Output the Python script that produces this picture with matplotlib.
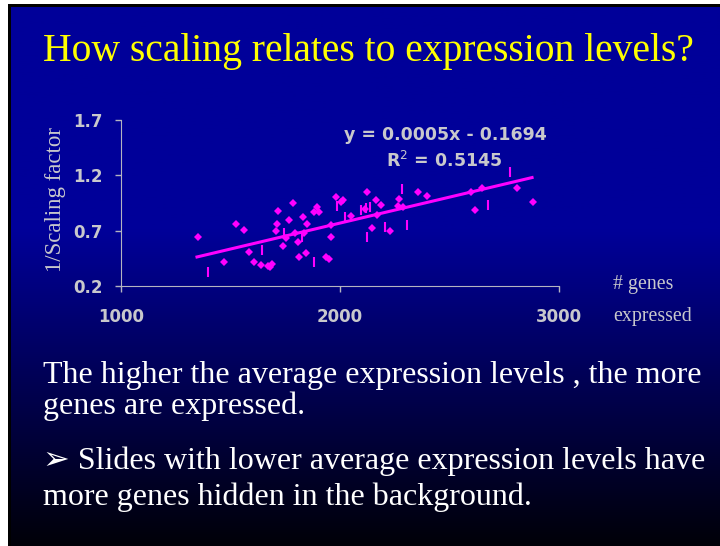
import matplotlib
matplotlib.use("Agg")
import matplotlib.pyplot as plt
import numpy as np

W, H = 720, 546

# points drawn as diamonds
genes_diamond = [1351, 1471, 1524, 1560, 1586, 1606, 1638, 1670, 1679, 1689,
                 1716, 1713, 1707, 1738, 1754, 1769, 1786, 1795, 1806, 1811,
                 1833, 1834, 1845, 1848, 1879, 1896, 1906, 1937, 1952, 1957,
                 1960, 1983, 2005, 2013, 2048, 2124, 2166, 2185, 2113, 2168,
                 2146, 2229, 2270, 2265, 2288, 2356, 2397, 2600, 2649, 2616,
                 2810, 2879]
scale_diamond = [0.645, 0.417, 0.760, 0.706, 0.507, 0.417, 0.390, 0.381, 0.374, 0.399,
                 0.875, 0.760, 0.700, 0.564, 0.638, 0.796, 0.950, 0.676, 0.600, 0.465,
                 0.821, 0.676, 0.501, 0.760, 0.869, 0.911, 0.871, 0.465, 0.441, 0.645,
                 0.748, 1.001, 0.959, 0.973, 0.833, 1.047, 0.977, 0.932, 0.893, 0.842,
                 0.724, 0.697, 0.983, 0.923, 0.911, 1.048, 1.013, 1.047, 1.084, 0.887,
                 1.083, 0.957]

# points drawn as short vertical dashes
genes_dash = [1398, 1644, 1746, 1827, 1879, 1986, 2025, 2097, 2117, 2135,
              2123, 2204, 2285, 2304, 2676, 2776]
scale_dash = [0.329, 0.525, 0.679, 0.645, 0.420, 0.927, 0.826, 0.887, 0.902, 0.914,
              0.645, 0.736, 1.074, 0.751, 0.932, 1.227]

# trend line
fit_slope = 0.000469
fit_intercept = -0.1694
fit_x = [1347, 2877]

x_ticks = [1000, 2000, 3000]
y_ticks = [0.2, 0.7, 1.2, 1.7]

serif = "Liberation Serif"
bold_sans = "DejaVu Sans"
grey = "#c8c8cc"
magenta = "#ff00ff"


def fx(px):
    return px / W


def fy(py):
    return 1 - py / H


fig = plt.figure(figsize=(7.2, 5.46), dpi=100)
fig.patch.set_facecolor("white")

# slide background: black frame and blue -> black gradient
frame = fig.add_axes([fx(8), 0, 1 - fx(8), fy(4)])
frame.set_facecolor("black")
frame.set_xticks([])
frame.set_yticks([])
for s in frame.spines.values():
    s.set_visible(False)

bg = fig.add_axes([fx(11), 0, 1 - fx(11), fy(7)])
rows = np.linspace(7, H, 300)
top = np.array([0, 0, 153]) / 255
bottom = np.array([0, 0, 8]) / 255
t = np.clip((rows - 230) / (H - 230), 0, 1)[:, None]
grad = top * (1 - t) + bottom * t
bg.imshow(grad[:, None, :], aspect="auto", extent=[0, 1, 0, 1])
bg.set_axis_off()

# title and body text
fig.text(fx(43), fy(51), "How scaling relates to expression levels?",
         color="yellow", family=serif, fontsize=28.5, ha="left", va="center")
body = 23
fig.text(fx(43), fy(376), "The higher the average expression levels , the more",
         color="white", family=serif, fontsize=body, ha="left", va="center")
fig.text(fx(43), fy(406), "genes are expressed.",
         color="white", family=serif, fontsize=body, ha="left", va="center")
fig.text(fx(43), fy(461), "\u27a2 Slides with lower average expression levels have",
         color="white", family=[serif, "DejaVu Sans"], fontsize=body, ha="left", va="center")
fig.text(fx(43), fy(497), "more genes hidden in the background.",
         color="white", family=serif, fontsize=body, ha="left", va="center")

# scatter chart
ax = fig.add_axes([fx(121), fy(286), fx(559) - fx(121), fy(120) - fy(286)])
ax.patch.set_alpha(0)
ax.plot(genes_diamond, scale_diamond, "D", color=magenta, markersize=4.5, mew=0)
ax.plot(genes_dash, scale_dash, "|", color=magenta, markersize=6.5, mew=1.5)
fx_arr = np.array(fit_x)
ax.plot(fx_arr, fit_slope * fx_arr + fit_intercept, color=magenta, lw=2.2)

ax.set_xlim(1000, 3000)
ax.set_ylim(0.2, 1.7)
ax.set_xticks(x_ticks)
ax.set_yticks(y_ticks)
ax.set_xticklabels([str(v) for v in x_ticks])
ax.set_yticklabels(["%.1f" % v for v in y_ticks])
for s in ["top", "right"]:
    ax.spines[s].set_visible(False)
for s in ["left", "bottom"]:
    ax.spines[s].set_color("#b4b4c0")
ax.tick_params(colors="#b4b4c0", length=4, width=1, labelcolor=grey)
ax.tick_params(axis="y", pad=9)
ax.tick_params(axis="x", pad=12)
for lab in ax.get_xticklabels() + ax.get_yticklabels():
    lab.set_family(bold_sans)
    lab.set_fontweight("bold")
    lab.set_fontsize(12)

fig.text(fx(55), fy(200), "1/Scaling factor", color=grey, family=serif,
         fontsize=16.5, rotation=90, ha="center", va="center")
fig.text(fx(613), fy(284), "# genes", color=grey, family=serif,
         fontsize=14.3, ha="left", va="center")
fig.text(fx(613), fy(316), "expressed", color=grey, family=serif,
         fontsize=14.3, ha="left", va="center")

fig.text(fx(445), fy(135), "y = 0.0005x - 0.1694", color=grey, family=bold_sans,
         fontweight="bold", fontsize=12.5, ha="center", va="center")
fig.text(fx(444), fy(161), "R$^2$ = 0.5145", color=grey, family=bold_sans,
         fontweight="bold", fontsize=12.5, ha="center", va="center")

fig.savefig("out.png", dpi=100)
